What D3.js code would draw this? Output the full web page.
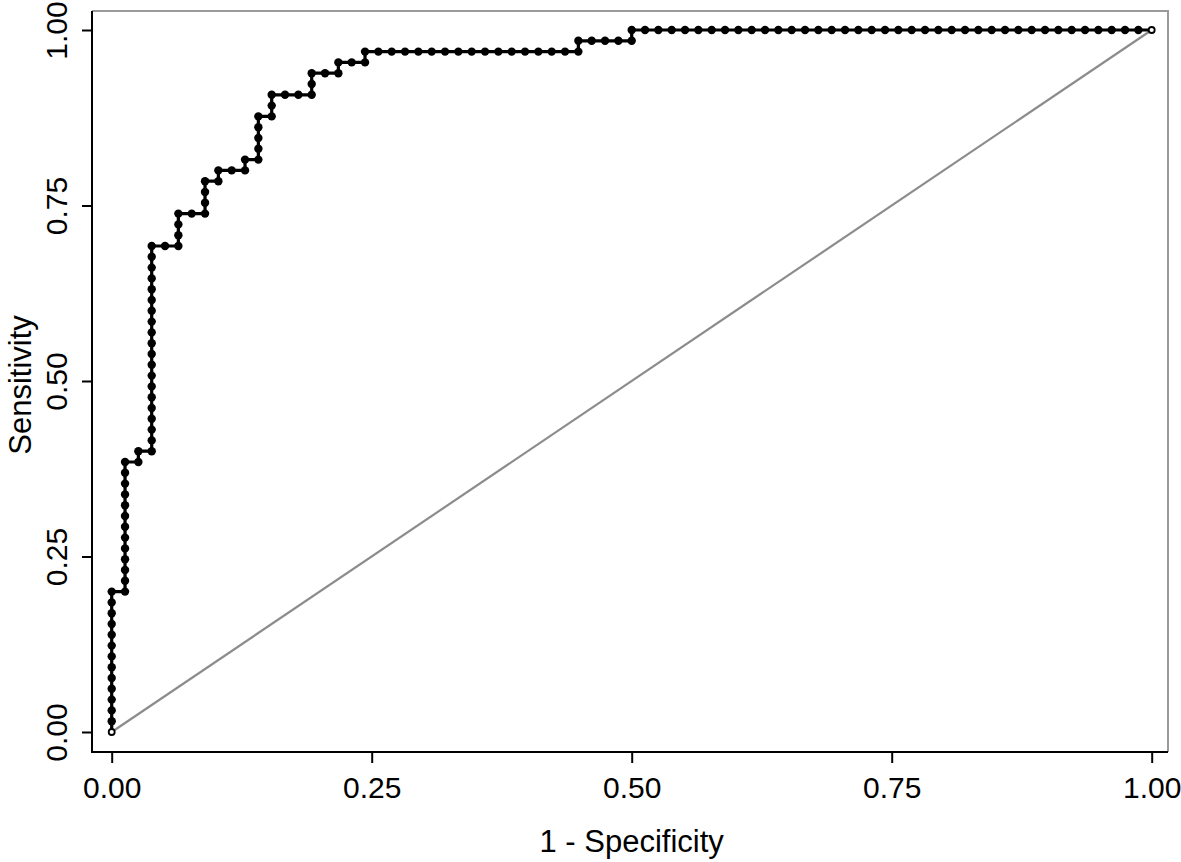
<!DOCTYPE html>
<html>
<head>
<meta charset="utf-8">
<script src="https://cdn.jsdelivr.net/npm/d3@7"></script>
<style>
  html, body { margin: 0; padding: 0; background: #fff; }
  svg { display: block; }
  text { font-family: "Liberation Sans", Arial, sans-serif; fill: #000; }
</style>
</head>
<body>
<svg id="chart" width="1181" height="862"></svg>
<script>
// Observations sorted by decreasing score, as run lengths:
// class 1 = positive (sensitivity step), class 0 = negative (1 - specificity step)
const runClass  = [1, 0, 1, 0, 1, 0, 1, 0, 1, 0, 1, 0, 1, 0, 1, 0, 1, 0, 1, 0, 1, 0, 1, 0, 1, 0, 1, 0, 1, 0];
const runLength = [13, 1, 12, 1, 1, 1, 19, 2, 3, 2, 3, 1, 1, 2, 1, 1, 4, 1, 2, 3, 2, 2, 1, 2, 1, 16, 1, 4, 1, 39];
const xTickValues = [0, 0.25, 0.5, 0.75, 1];
const yTickValues = [0, 0.25, 0.5, 0.75, 1];
const xTitle = "1 - Specificity";
const yTitle = "Sensitivity";

const nPos = d3.sum(runLength.filter((d, i) => runClass[i] === 1));
const nNeg = d3.sum(runLength.filter((d, i) => runClass[i] === 0));

// Build ROC points: one point per threshold (each observation)
const points = [{ fpr: 0, tpr: 0 }];
let tp = 0, fp = 0;
runClass.forEach((c, i) => {
  for (let k = 0; k < runLength[i]; k++) {
    if (c === 1) tp++; else fp++;
    points.push({ fpr: fp / nNeg, tpr: tp / nPos });
  }
});

const svg = d3.select("#chart");
const x = d3.scaleLinear().domain([0, 1]).range([111.7, 1151.7]);
const y = d3.scaleLinear().domain([0, 1]).range([732, 30]);

const plotLeft = 92, plotRight = 1168, plotTop = 11, plotBottom = 752;
const fontStack = '"Liberation Sans", Arial, sans-serif';

// plot region border (gray top & right)
svg.append("path")
  .attr("d", `M${plotLeft},${plotTop}H${plotRight}V${plotBottom}`)
  .attr("fill", "none").attr("stroke", "#9a9a9a").attr("stroke-width", 2);

// reference diagonal
svg.append("line")
  .attr("x1", x(0)).attr("y1", y(0)).attr("x2", x(1)).attr("y2", y(1))
  .attr("stroke", "#8c8c8c").attr("stroke-width", 2.2);

// ROC curve
const line = d3.line().x(d => x(d.fpr)).y(d => y(d.tpr));
svg.append("path").datum(points)
  .attr("d", line).attr("fill", "none")
  .attr("stroke", "#000").attr("stroke-width", 3.2);

svg.append("g").selectAll("circle").data(points).join("circle")
  .attr("cx", d => x(d.fpr)).attr("cy", d => y(d.tpr))
  .attr("r", (d, i) => (i === 0 || i === points.length - 1) ? 3 : 4.2)
  .attr("fill", (d, i) => (i === 0 || i === points.length - 1) ? "#fff" : "#000")
  .attr("stroke", "#000")
  .attr("stroke-width", (d, i) => (i === 0 || i === points.length - 1) ? 1.8 : 0);

// axes
const xAxis = d3.axisBottom(x).tickValues(xTickValues).tickFormat(d3.format(".2f"))
  .tickSize(11).tickSizeOuter(0);
const gx = svg.append("g").attr("transform", `translate(0,${plotBottom})`).call(xAxis);
gx.select(".domain").remove();
gx.selectAll(".tick line").attr("stroke", "#000").attr("stroke-width", 2);
gx.selectAll(".tick text").attr("y", 46).attr("dy", 0)
  .style("font-size", "30px").style("font-family", fontStack).attr("fill", "#000");

const yAxis = d3.axisLeft(y).tickValues(yTickValues).tickFormat(d3.format(".2f"))
  .tickSize(10).tickSizeOuter(0);
const gy = svg.append("g").attr("transform", `translate(${plotLeft},0)`).call(yAxis);
gy.select(".domain").remove();
gy.selectAll(".tick line").attr("stroke", "#000").attr("stroke-width", 2);
gy.selectAll(".tick text")
  .attr("x", null).attr("dy", 0).attr("text-anchor", "middle")
  .attr("transform", "translate(-25,0) rotate(-90)")
  .style("font-size", "30px").style("font-family", fontStack).attr("fill", "#000");

// axis lines (black left & bottom)
svg.append("path")
  .attr("d", `M${plotLeft},${plotTop}V${plotBottom}H${plotRight}`)
  .attr("fill", "none").attr("stroke", "#000").attr("stroke-width", 2);

// titles
svg.append("text").attr("x", (x(0) + x(1)) / 2).attr("y", 852)
  .attr("text-anchor", "middle").style("font-size", "31px").text(xTitle);
svg.append("text")
  .attr("transform", `translate(31,${(y(0) + y(1)) / 2 + 4}) rotate(-90)`)
  .attr("text-anchor", "middle").style("font-size", "31px").text(yTitle);
</script>
</body>
</html>
